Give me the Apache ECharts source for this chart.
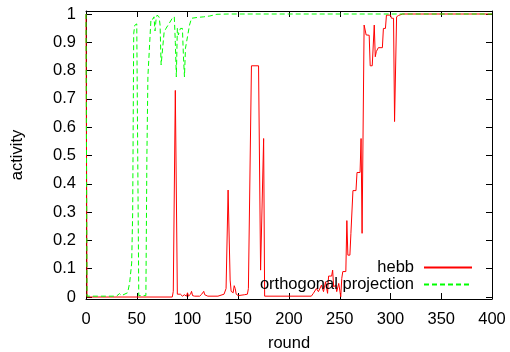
<!DOCTYPE html>
<html>
<head>
<meta charset="utf-8">
<script src="https://cdn.jsdelivr.net/npm/echarts@6/dist/echarts.min.js"></script>
<style>
html,body{margin:0;padding:0;background:#fff;}
#chart{width:510px;height:352px;}
</style>
</head>
<body>
<div id="chart"></div>
<script>
// ---- data ----
var xTicks = [0, 50, 100, 150, 200, 250, 300, 350, 400];
var yTicks = [0, 0.1, 0.2, 0.3, 0.4, 0.5, 0.6, 0.7, 0.8, 0.9, 1];
var seriesNames = ['hebb', 'orthogonal projection'];

var hebbX = [0, 1, 85, 86, 88, 90, 91, 93, 95, 97, 99, 100, 101, 103, 104, 105, 107, 112, 114, 116, 117, 120, 130, 136, 138, 140, 141, 142, 143, 145, 146, 147, 148, 150, 156, 159, 160, 163, 170, 172, 175, 176, 222, 224, 227, 229, 232, 234, 236, 238, 239, 242, 243, 244, 246, 247, 249, 251, 252, 253, 256, 257, 258, 260, 261, 262, 263, 266, 267, 270, 271, 272, 274, 276, 279, 280, 282, 284, 285, 286, 288, 292, 293, 295, 296, 300, 301, 303, 304, 306, 308, 312, 400];
var hebbY = [1, 0, 0, 0.02, 0.73, 0.01, 0.005, 0.01, 0.003, 0.008, 0.003, 0.015, 0.003, 0.01, 0.02, 0.005, 0.003, 0.003, 0.01, 0.02, 0.008, 0.003, 0.003, 0.01, 0.03, 0.378, 0.378, 0.06, 0.02, 0.015, 0.04, 0.03, 0.01, 0.005, 0.008, 0.01, 0.03, 0.817, 0.817, 0.095, 0.56, 0.003, 0.003, 0.013, 0.03, 0.019, 0.042, 0.019, 0.054, 0.013, 0.074, 0.074, 0.095, 0.036, 0.042, 0.019, 0.048, 0.001, 0.066, 0.09, 0.09, 0.27, 0.148, 0.148, 0.225, 0.225, 0.376, 0.376, 0.44, 0.44, 0.56, 0.225, 0.961, 0.926, 0.925, 0.817, 0.817, 0.961, 0.849, 0.867, 0.881, 0.881, 0.949, 0.949, 0.996, 0.996, 0.985, 0.985, 0.62, 0.99, 0.995, 1, 1];

var orthoX = [0, 1, 30, 33, 35, 41, 43, 45, 46, 47, 48, 50, 51, 52, 59, 60, 61, 62, 64, 66, 67, 68, 69, 70, 72, 73, 74, 75, 77, 79, 82, 85, 87, 88, 89, 90, 91, 93, 95, 96, 97, 98, 100, 101, 102, 104, 110, 116, 122, 129, 140, 400];
var orthoY = [1, 0.003, 0.003, 0.012, 0.005, 0.015, 0.05, 0.12, 0.3, 0.93, 0.96, 0.965, 0.96, 0.005, 0.005, 0.5, 0.78, 0.78, 0.982, 0.982, 0.99, 0.94, 0.98, 0.996, 0.99, 0.96, 0.82, 0.82, 0.937, 0.95, 0.967, 0.985, 0.99, 0.9, 0.778, 0.949, 0.926, 0.949, 0.949, 0.85, 0.778, 0.879, 0.92, 0.92, 0.961, 0.985, 0.988, 0.99, 0.993, 0.999, 1, 1];

function pairs(xs, ys) { return xs.map(function (x, i) { return [x, ys[i]]; }); }

var FONT = 'Liberation Sans';
var FS = 16.5;
var chart = echarts.init(document.getElementById('chart'), null, { renderer: 'canvas' });
var lineBlack = { show: true, onZero: false, lineStyle: { color: '#000', width: 1 } };
var tickIn = { show: true, inside: true, length: 6, lineStyle: { color: '#000', width: 1 } };

function legendFor(name, top) {
  return {
    data: [name], orient: 'vertical', right: 37, top: top, align: 'right', padding: 0,
    itemWidth: 48, itemHeight: 16, selectedMode: false,
    itemStyle: { opacity: 0 },
    textStyle: { fontFamily: FONT, fontSize: FS, color: '#000', padding: [0, 5, 0, 0] }
  };
}

var option = {
  animation: false,
  backgroundColor: '#fff',
  grid: { left: 86, right: 18, top: 11, bottom: 53, containLabel: false, outerBoundsMode: 'none' },
  xAxis: [
    {
      type: 'value', min: 0, max: 400, interval: 50, position: 'bottom',
      name: 'round', nameLocation: 'middle', nameGap: 36,
      nameTextStyle: { fontFamily: FONT, fontSize: FS, color: '#000' },
      axisLine: lineBlack,
      axisTick: tickIn,
      axisLabel: { fontFamily: FONT, fontSize: FS, color: '#000', margin: 12,
        customValues: xTicks },
      splitLine: { show: false }
    },
    {
      type: 'value', min: 0, max: 400, interval: 50, position: 'top',
      axisLine: lineBlack, axisTick: tickIn, axisLabel: { show: false }, splitLine: { show: false }
    }
  ],
  yAxis: [
    {
      type: 'value', min: -0.007, max: 1.0106, position: 'left',
      name: 'activity', nameLocation: 'middle', nameGap: 60, nameRotate: 90,
      nameTextStyle: { fontFamily: FONT, fontSize: FS, color: '#000' },
      axisLine: lineBlack,
      axisTick: { show: true, inside: true, length: 6, lineStyle: { color: '#000', width: 1 }, customValues: yTicks },
      axisLabel: { fontFamily: FONT, fontSize: FS, color: '#000', margin: 10, customValues: yTicks,
        formatter: function (v) { return String(Math.round(v * 10) / 10); } },
      splitLine: { show: false }
    },
    {
      type: 'value', min: -0.007, max: 1.0106, position: 'right',
      axisLine: lineBlack,
      axisTick: { show: true, inside: true, length: 6, lineStyle: { color: '#000', width: 1 }, customValues: yTicks },
      axisLabel: { show: false }, splitLine: { show: false }
    }
  ],
  legend: [legendFor(seriesNames[0], 259), legendFor(seriesNames[1], 276)],
  series: [
    {
      name: seriesNames[0], type: 'line', xAxisIndex: 0, yAxisIndex: 0,
      data: pairs(hebbX, hebbY), showSymbol: false, symbol: 'none',
      lineStyle: { color: '#ff0000', width: 1 }, itemStyle: { color: '#ff0000' }, z: 2
    },
    {
      name: seriesNames[1], type: 'line', xAxisIndex: 0, yAxisIndex: 0,
      data: pairs(orthoX, orthoY), showSymbol: false, symbol: 'none',
      lineStyle: { color: '#00ff00', width: 1, type: [5, 3] }, itemStyle: { color: '#00ff00' }, z: 3
    }
  ]
};
chart.setOption(option);
</script>
</body>
</html>
